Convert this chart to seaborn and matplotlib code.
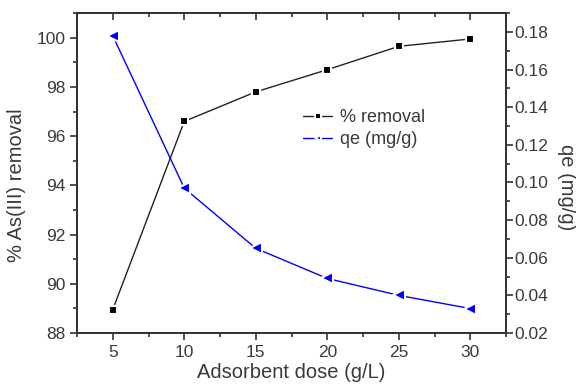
import matplotlib
matplotlib.use("Agg")
import matplotlib.pyplot as plt
import seaborn as sns
import pandas as pd
from matplotlib.ticker import MultipleLocator

dose = [5, 10, 15, 20, 25, 30]
removal = [88.95, 96.6, 97.8, 98.7, 99.65, 99.95]
qe = [0.178, 0.097, 0.065, 0.049, 0.040, 0.033]

sns.set_style("ticks")
plt.rcParams['font.family'] = ['Liberation Sans', 'DejaVu Sans']
tc = '#3a3a3a'

df = pd.DataFrame({"dose": dose, "removal": removal, "qe": qe})

fig = plt.figure(figsize=(5.76, 3.86), dpi=100)
ax = fig.add_axes([0.1337, 0.1373, 0.7448, 0.8287])
ax2 = ax.twinx()

sns.lineplot(data=df, x="dose", y="removal", ax=ax, color='#222222', lw=1.0,
             marker='s', markersize=6, markeredgecolor='white', markeredgewidth=1.5,
             markerfacecolor='black', label='% removal', legend=False)
sns.lineplot(data=df, x="dose", y="qe", ax=ax2, color='#0000ff', lw=1.0,
             marker='<', markersize=9, markeredgecolor='white', markeredgewidth=1.5,
             markerfacecolor='#0000ff', label='qe (mg/g)', legend=False)

ax.set_xlim(2.5, 32.5)
ax.set_ylim(88, 101)
ax2.set_ylim(0.02, 0.19)
ax.xaxis.set_major_locator(MultipleLocator(5))
ax.xaxis.set_minor_locator(MultipleLocator(2.5))
ax.yaxis.set_major_locator(MultipleLocator(2))
ax.yaxis.set_minor_locator(MultipleLocator(1))
ax2.yaxis.set_major_locator(MultipleLocator(0.02))
ax2.yaxis.set_minor_locator(MultipleLocator(0.01))
ax2.yaxis.set_major_formatter(matplotlib.ticker.FormatStrFormatter('%.2f'))

for a in (ax, ax2):
    for s in a.spines.values():
        s.set_visible(True)
        s.set_linewidth(1.3)
        s.set_color('#333333')
ax.tick_params(axis='both', which='major', length=5, width=1.2, color='#333333',
               labelsize=12.5, labelcolor=tc, direction='out')
ax.tick_params(axis='both', which='minor', length=3, width=1.2, color='#333333', direction='out')
ax2.tick_params(axis='y', which='major', length=5, width=1.2, color='#333333',
                labelsize=12.5, labelcolor=tc, direction='out', pad=1)
ax2.tick_params(axis='y', which='minor', length=3, width=1.2, color='#333333', direction='out')
# top ticks inward
secx = ax.secondary_xaxis('top')
secx.xaxis.set_major_locator(MultipleLocator(5))
secx.xaxis.set_minor_locator(MultipleLocator(2.5))
secx.tick_params(which='major', direction='in', length=5, width=1.2, color='#333333', labeltop=False)
secx.tick_params(which='minor', direction='in', length=3, width=1.2, color='#333333')
secx.spines['top'].set_visible(False)
ax.tick_params(axis='x', top=False, which='both')

ax.set_xlabel('Adsorbent dose (g/L)', fontsize=14.5, color=tc, labelpad=2)
ax.set_ylabel('% As(III) removal', fontsize=14.5, color=tc)
ax2.set_ylabel('qe (mg/g)', fontsize=14.5, color=tc, rotation=-90)
ax.yaxis.set_label_coords(-0.118, 0.463)
ax2.yaxis.set_label_coords(1.141, 0.455)
ax2.yaxis.label.set_va('center')

h1, l1 = ax.get_legend_handles_labels()
h2, l2 = ax2.get_legend_handles_labels()
leg = ax.legend(h1 + h2, l1 + l2, loc='upper left', bbox_to_anchor=(0.49, 0.75),
                frameon=False, fontsize=13, handlelength=1.6, handletextpad=0.4,
                labelspacing=0.25, labelcolor=tc)
for h in leg.legend_handles:
    h.set_markersize(5)

fig.savefig('out.png', dpi=100)
